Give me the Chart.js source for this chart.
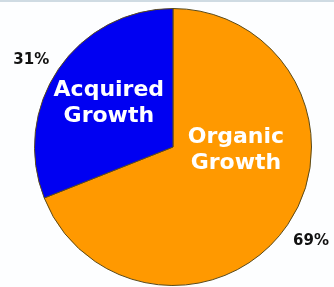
<!DOCTYPE html>
<html>
<head>
<meta charset="utf-8">
<script src="https://cdn.jsdelivr.net/npm/chart.js@4.4.1/dist/chart.umd.min.js"></script>
<style>
  html, body { margin: 0; padding: 0; background: #fdfeff; }
  #wrap { position: relative; width: 334px; height: 287px; border-top: 2px solid #cfdbe3; box-sizing: border-box; }
</style>
</head>
<body>
<div id="wrap"><canvas id="chart" width="334" height="285"></canvas></div>
<script>
// data
const labels = [["Organic", "Growth"], ["Acquired", "Growth"]];
const values = [69, 31];
const colors = ["#ff9900", "#0000f2"];

// where the text goes for each slice: [angle offset from mid (deg), radius fraction]
const insideSpots = [[-31, 0.455], [0, 0.56]];
const outsideSpots = [[0, 1.205], [-2.7, 1.2]];

const sliceLabels = {
  id: "sliceLabels",
  afterDatasetsDraw(chart) {
    const ctx = chart.ctx;
    const arcs = chart.getDatasetMeta(0).data;
    ctx.save();
    ctx.textAlign = "center";
    ctx.textBaseline = "middle";
    arcs.forEach((arc, i) => {
      const mid = (arc.startAngle + arc.endAngle) / 2;
      const r = arc.outerRadius;

      // inside label
      const a = mid + insideSpots[i][0] * Math.PI / 180;
      const d = r * insideSpots[i][1];
      const cx = arc.x + Math.cos(a) * d;
      const cy = arc.y + Math.sin(a) * d;
      ctx.fillStyle = "#ffffff";
      ctx.font = "bold 22px 'DejaVu Sans', Verdana, sans-serif";
      const lines = labels[i];
      lines.forEach((t, k) => {
        ctx.fillText(t, cx, cy + (k - (lines.length - 1) / 2) * 26);
      });

      // percentage outside
      const b = mid + outsideSpots[i][0] * Math.PI / 180;
      const px = arc.x + Math.cos(b) * r * outsideSpots[i][1];
      const py = arc.y + Math.sin(b) * r * outsideSpots[i][1];
      ctx.fillStyle = "#111111";
      ctx.font = "bold 15px 'DejaVu Sans', Verdana, sans-serif";
      ctx.fillText(values[i] + "%", px, py);
    });
    ctx.restore();
  }
};

new Chart(document.getElementById("chart").getContext("2d"), {
  type: "pie",
  data: {
    labels: labels.map(l => l.join(" ")),
    datasets: [{
      data: values,
      backgroundColor: colors,
      borderColor: "#5a4a1a",
      borderWidth: 1
    }]
  },
  options: {
    responsive: false,
    animation: false,
    layout: { padding: { top: 6, bottom: 1, left: 34, right: 22 } },
    plugins: {
      legend: { display: false },
      tooltip: { enabled: false }
    }
  },
  plugins: [sliceLabels]
});
</script>
</body>
</html>
